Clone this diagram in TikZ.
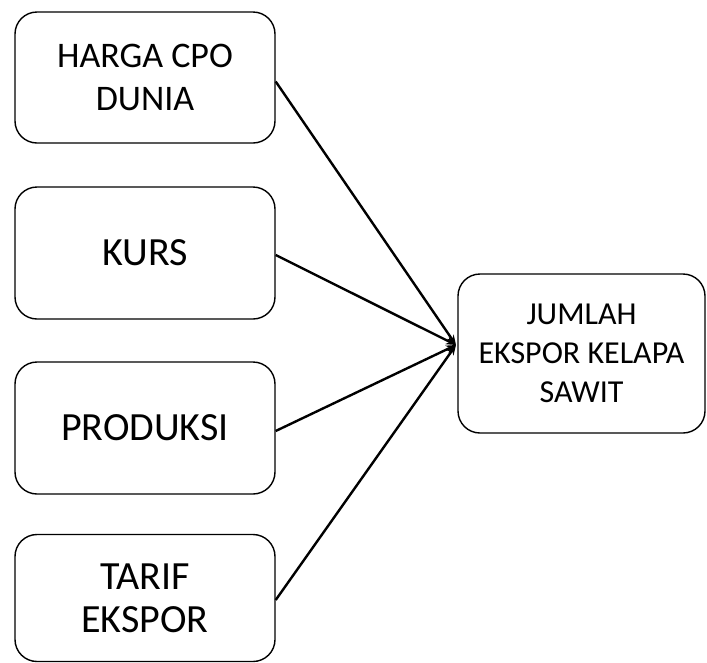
\documentclass[tikz,border=0pt]{standalone}
\usepackage{fontspec}
\setmainfont{Carlito}
\usetikzlibrary{arrows.meta}
\begin{document}
\begin{tikzpicture}[x=1pt,y=-1pt,
  leftbox/.style={draw,line width=1.4pt,rounded corners=22pt,align=center,
    minimum width=260pt,inner sep=0pt,font=\fontsize{40}{43}\selectfont},
  rightbox/.style={draw,line width=1.4pt,rounded corners=22pt,align=center,
    minimum width=247pt,minimum height=159pt,inner sep=0pt,font=\fontsize{32}{39}\selectfont},
  conn/.style={line width=2.4pt,-{Stealth[length=10pt,width=8pt]}}]
\useasboundingbox (0,0) rectangle (707,662);
\node[leftbox,minimum height=131pt,font=\fontsize{36}{43}\selectfont] (a) at (145,77.5) {HARGA CPO\\DUNIA};
\node[leftbox,minimum height=132pt] (b) at (145,253) {KURS};
\node[leftbox,minimum height=132pt] (c) at (145,428) {PRODUKSI};
\node[leftbox,minimum height=127pt] (d) at (145,598) {TARIF\\EKSPOR};
\node[rightbox] (e) at (581.5,353.5) {JUMLAH\\EKSPOR KELAPA\\SAWIT};
\coordinate (tip) at (456,345);
\draw[conn] (a.east) ++(0,4) -- (tip);
\draw[conn] (b.east) ++(0,2) -- (tip);
\draw[conn] (c.east) ++(0,3) -- (tip);
\draw[conn] (d.east) ++(0,2) -- (tip);
\end{tikzpicture}
\end{document}
